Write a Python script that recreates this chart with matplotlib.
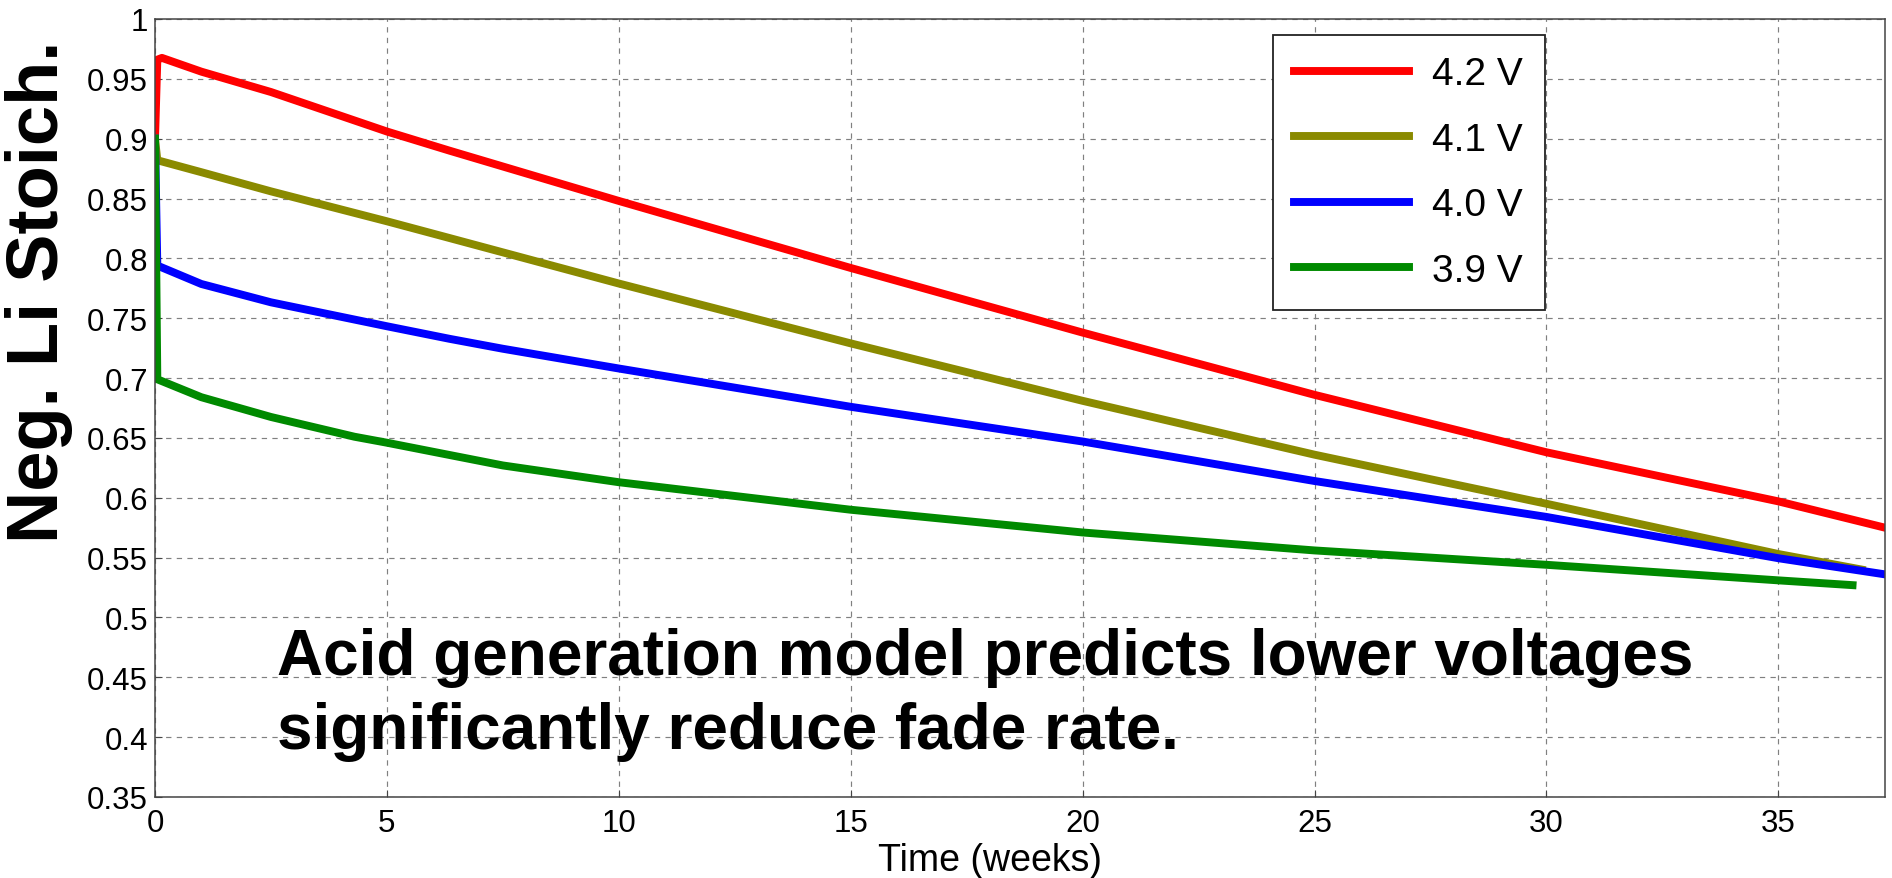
import matplotlib
matplotlib.use("Agg")
import matplotlib.pyplot as plt
from matplotlib.ticker import FuncFormatter

plt.rcParams["font.family"] = ["Liberation Sans", "DejaVu Sans"]

# Data (time in weeks, negative electrode Li stoichiometry)
t_42 = [0, 0.05, 0.15, 1, 2.5, 5, 6.35, 10, 15, 20, 25, 30, 35, 37.3]
y_42 = [0.900, 0.966, 0.9675, 0.956, 0.939, 0.906, 0.890, 0.848, 0.792, 0.738, 0.686, 0.638, 0.597, 0.575]

t_41 = [0, 0.05, 1, 2.5, 5, 6.35, 10, 15, 20, 25, 30, 35, 36.8]
y_41 = [0.900, 0.882, 0.872, 0.856, 0.831, 0.817, 0.779, 0.729, 0.681, 0.636, 0.595, 0.553, 0.540]

t_40 = [0, 0.05, 1, 2.5, 5, 6.35, 7.5, 10, 15, 20, 25, 30, 35, 37.3]
y_40 = [0.900, 0.794, 0.7786, 0.7633, 0.7433, 0.7328, 0.7245, 0.708, 0.676, 0.647, 0.614, 0.584, 0.5495, 0.536]

t_39 = [0, 0.05, 1, 2.5, 4.3, 5, 7.5, 10, 15, 20, 25, 30, 35, 36.6]
y_39 = [0.900, 0.699, 0.684, 0.6675, 0.651, 0.646, 0.627, 0.613, 0.590, 0.571, 0.556, 0.544, 0.531, 0.527]

labels = ["4.2 V", "4.1 V", "4.0 V", "3.9 V"]
colors = ["#ff0000", "#8a8a00", "#0000ff", "#008a00"]

fig = plt.figure(figsize=(18.92, 8.79), dpi=100)
ax = fig.add_axes([155 / 1892, 1 - 798 / 879, 1730 / 1892, 778 / 879])

series = [(t_42, y_42), (t_41, y_41), (t_40, y_40), (t_39, y_39)]
for (t, y), lab, c in zip(series, labels, colors):
    ax.plot(t, y, color=c, lw=5.7, label=lab, solid_joinstyle="round")

ax.set_xlim(0, 37.3)
ax.set_ylim(0.35, 1.0)
ax.set_xticks(range(0, 36, 5))
ax.set_yticks([0.35 + 0.05 * i for i in range(14)])
ax.yaxis.set_major_formatter(FuncFormatter(lambda v, p: f"{round(v, 2):g}"))
ax.tick_params(direction="in", length=5, labelsize=22.5, pad=8, color="#444444")
ax.tick_params(axis="y", pad=5)

ax.grid(True, color="#808080", linestyle=(0, (4.5, 4.5)), linewidth=0.85)
for s in ax.spines.values():
    s.set_color("#444444")
    s.set_linewidth(1.1)

leg = ax.legend(loc="upper left", bbox_to_anchor=((1273 - 155) / 1730, 1 - 16 / 778),
                borderaxespad=0, fontsize=28, handlelength=2.95, handletextpad=0.6,
                labelspacing=0.76, borderpad=0.55, fancybox=False, framealpha=1)
leg.get_frame().set_edgecolor("#222222")
leg.get_frame().set_linewidth(1.3)

# axis labels
fig.text(39 / 1892, 1 - 292 / 879, "Neg. Li Stoich.", rotation=90, ha="center", va="center",
         fontsize=52, fontweight="bold")
fig.text(990 / 1892, 1 - 861 / 879, "Time (weeks)", ha="center", va="center", fontsize=27)

# overlay annotation
ax.text(2.64, 0.4527, "Acid generation model predicts lower voltages",
        fontsize=46, fontweight="bold", va="baseline", ha="left")
ax.text(2.64, 0.3909, "significantly reduce fade rate.",
        fontsize=46, fontweight="bold", va="baseline", ha="left")

fig.savefig("out.png", dpi=100)
